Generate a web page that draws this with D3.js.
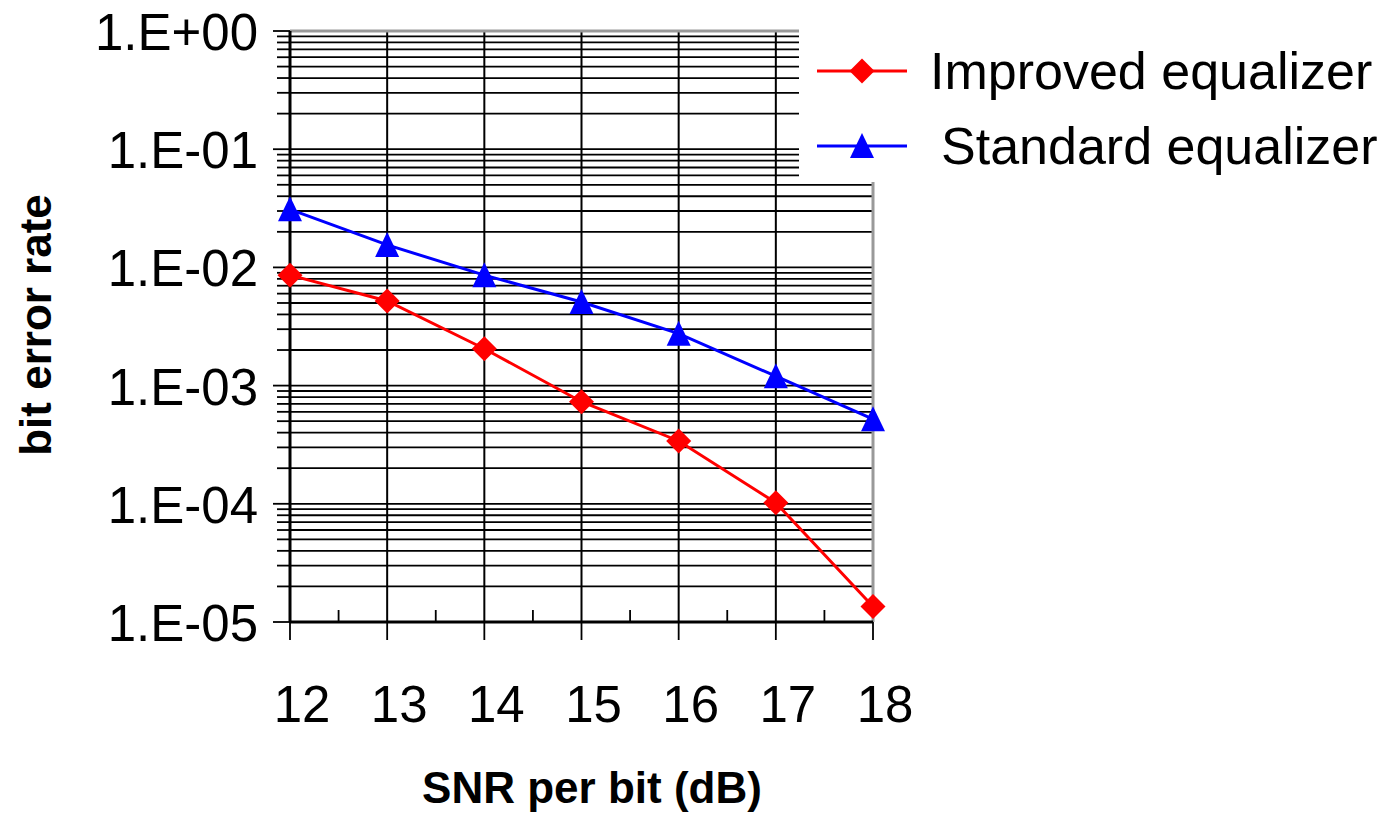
<!DOCTYPE html>
<html lang="en">
  <head>
    <meta charset="utf-8">
    <title>Bit error rate vs SNR</title>
    <style>
      body { margin: 0; background: #fff; }
      svg { display: block; font-family: "Liberation Sans", Arial, sans-serif; }
    </style>
    <script src="https://d3js.org/d3.v7.min.js"></script>
  </head>
  <body>
    <div class="chart"></div>
    <script>
    const snr = [12, 13, 14, 15, 16, 17, 18]
    const improved = [8.6e-3, 5.2e-3, 2.05e-3, 7.3e-4, 3.4e-4, 1.02e-4, 1.35e-5]
    const standard = [3.1e-2, 1.55e-2, 8.6e-3, 5.1e-3, 2.75e-3, 1.2e-3, 5.2e-4]
    const yTicks = [1, 1e-1, 1e-2, 1e-3, 1e-4, 1e-5]
    const yTickLabels = ["1.E+00", "1.E-01", "1.E-02", "1.E-03", "1.E-04", "1.E-05"]
    const seriesNames = ["Improved equalizer", "Standard equalizer"]

    const W = 1396, H = 813
    const plotLeft = 290, plotRight = 873, plotTop = 31, plotBottom = 622

    const svg = d3.select(".chart")
      .append("svg")
      .attr("width", W)
      .attr("height", H)

    const x = d3.scaleLinear().domain([12, 18]).range([plotLeft, plotRight])
    const y = d3.scaleLog().domain([1e-5, 1]).range([plotBottom, plotTop])

    // minor log values: 1..9 times each decade
    const minor = []
    for (let e = -5; e < 0; e++) {
      for (let m = 1; m <= 9; m++) minor.push(m * Math.pow(10, e))
    }
    minor.push(1)

    // horizontal grid
    svg.append("g")
      .selectAll("line")
      .data(minor)
      .join("line")
      .attr("x1", plotLeft)
      .attr("x2", plotRight)
      .attr("y1", d => y(d))
      .attr("y2", d => y(d))
      .attr("stroke", "#000")
      .attr("stroke-width", 1.8)

    // vertical grid
    svg.append("g")
      .selectAll("line")
      .data(snr.slice(1, -1))
      .join("line")
      .attr("x1", d => x(d))
      .attr("x2", d => x(d))
      .attr("y1", plotTop)
      .attr("y2", plotBottom)
      .attr("stroke", "#000")
      .attr("stroke-width", 2)

    // legend background hides the top right corner of the plot
    svg.append("rect")
      .attr("x", 799)
      .attr("y", 0)
      .attr("width", W - 799)
      .attr("height", 180)
      .attr("fill", "#fff")

    // plot frame (gray top / right)
    svg.append("line")
      .attr("x1", plotLeft).attr("x2", 799)
      .attr("y1", plotTop).attr("y2", plotTop)
      .attr("stroke", "#999").attr("stroke-width", 3)
    svg.append("line")
      .attr("x1", plotRight).attr("x2", plotRight)
      .attr("y1", 182).attr("y2", plotBottom)
      .attr("stroke", "#999").attr("stroke-width", 3)

    // y axis
    const yAxis = svg.append("g")
    yAxis.append("line")
      .attr("x1", plotLeft).attr("x2", plotLeft)
      .attr("y1", plotTop).attr("y2", plotBottom)
      .attr("stroke", "#000").attr("stroke-width", 3)
    yAxis.selectAll(".minor")
      .data(minor)
      .join("line")
      .attr("x1", d => yTicks.includes(d) ? 273 : 277)
      .attr("x2", plotLeft)
      .attr("y1", d => y(d))
      .attr("y2", d => y(d))
      .attr("stroke", "#000")
      .attr("stroke-width", 1.8)
    yAxis.selectAll("text")
      .data(yTicks)
      .join("text")
      .attr("x", 258)
      .attr("y", d => y(d) + 19)
      .attr("text-anchor", "end")
      .style("font-size", "51px")
      .text((d, i) => yTickLabels[i])

    // x axis
    const xAxis = svg.append("g")
    xAxis.append("line")
      .attr("x1", plotLeft).attr("x2", plotRight)
      .attr("y1", plotBottom).attr("y2", plotBottom)
      .attr("stroke", "#000").attr("stroke-width", 3)
    xAxis.selectAll(".major")
      .data(snr)
      .join("line")
      .attr("x1", d => x(d)).attr("x2", d => x(d))
      .attr("y1", plotBottom).attr("y2", 640)
      .attr("stroke", "#000").attr("stroke-width", 1.8)
    xAxis.selectAll(".half")
      .data(snr.slice(0, -1))
      .join("line")
      .attr("x1", d => x(d + 0.5)).attr("x2", d => x(d + 0.5))
      .attr("y1", 610).attr("y2", plotBottom)
      .attr("stroke", "#000").attr("stroke-width", 1.8)
    xAxis.selectAll("text")
      .data(snr)
      .join("text")
      .attr("x", d => x(d) + 12)
      .attr("y", 722)
      .attr("text-anchor", "middle")
      .style("font-size", "51px")
      .text(d => d)

    // axis titles
    svg.append("text")
      .attr("x", 592)
      .attr("y", 803)
      .attr("text-anchor", "middle")
      .style("font-size", "44px")
      .style("font-weight", "bold")
      .text("SNR per bit (dB)")

    svg.append("text")
      .attr("transform", "translate(51,325) rotate(-90)")
      .attr("text-anchor", "middle")
      .style("font-size", "44px")
      .style("font-weight", "bold")
      .text("bit error rate")

    const diamond = (cx, cy) => `M${cx},${cy - 12.5}L${cx + 12.5},${cy}L${cx},${cy + 12.5}L${cx - 12.5},${cy}Z`
    const triangle = (cx, cy) => `M${cx},${cy - 13}L${cx + 12},${cy + 12}L${cx - 12},${cy + 12}Z`

    const series = [
      { name: seriesNames[0], values: improved, color: "#ff0000", marker: diamond },
      { name: seriesNames[1], values: standard, color: "#0000ff", marker: triangle }
    ]

    const line = d3.line()
      .x((d, i) => x(snr[i]))
      .y(d => y(d))

    series.forEach(s => {
      svg.append("path")
        .datum(s.values)
        .attr("d", line)
        .attr("fill", "none")
        .attr("stroke", s.color)
        .attr("stroke-width", 3)
      svg.append("g")
        .selectAll("path")
        .data(s.values)
        .join("path")
        .attr("d", (d, i) => s.marker(x(snr[i]), y(d)))
        .attr("fill", s.color)
    })

    // legend
    const legend = svg.append("g")
    series.forEach((s, i) => {
      const ly = 71 + i * 75
      legend.append("line")
        .attr("x1", 817).attr("x2", 907)
        .attr("y1", ly).attr("y2", ly)
        .attr("stroke", s.color).attr("stroke-width", 3)
      legend.append("path")
        .attr("d", s.marker(862, ly))
        .attr("fill", s.color)
      legend.append("text")
        .attr("x", i === 0 ? 930 : 941)
        .attr("y", ly + 18)
        .style("font-size", "52px")
        .text(s.name)
    })
    </script>
  </body>
</html>
